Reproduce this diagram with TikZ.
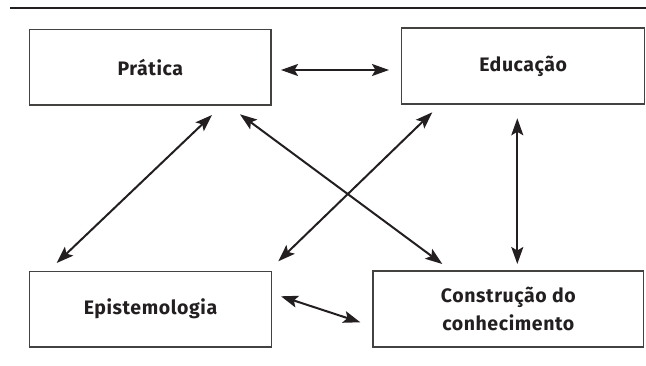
\documentclass[tikz,border=0pt]{standalone}
\usepackage{fontspec}
\setmainfont{Fira Sans}[LetterSpace=3]
\usetikzlibrary{arrows.meta}
\definecolor{ink}{HTML}{231F20}
\begin{document}
\begin{tikzpicture}[x=1pt,y=-1pt,
  box/.style={draw=ink!85,line width=1.3pt,fill=white,inner sep=0pt,
    font=\fontsize{19.5}{28}\selectfont\bfseries,text=ink,align=center},
  link/.style={draw=ink,line width=2pt,
    {Stealth[length=17pt,width=12pt,inset=3.5pt]}-{Stealth[length=17pt,width=12pt,inset=3.5pt]}}]
\useasboundingbox (0,0) rectangle (646,366);
\draw[ink,line width=2.5pt] (10,8) -- (646,8);
\node[box,minimum width=241.5pt,minimum height=75.5pt] (pr) at (150.3,67.3) {Prática};
\node[box,minimum width=243pt,minimum height=76pt] (ed) at (523.2,66) {Educação};
\node[box,minimum width=242pt,minimum height=75.7pt] (ep) at (150.5,309.2) {\raisebox{-1.5pt}{Epistemologia}};
\node[box,minimum width=270.7pt,minimum height=76pt] (co) at (508.3,309) {Construção do\\conhecimento};
\coordinate (a1) at (281,70);   \coordinate (a2) at (389,70);
\coordinate (b1) at (212,115);  \coordinate (b2) at (56.7,263);
\coordinate (c1) at (240,114.3);\coordinate (c2) at (442.3,264);
\coordinate (d1) at (432.3,112.3); \coordinate (d2) at (278.3,261.3);
\coordinate (e1) at (517.3,118.3); \coordinate (e2) at (517.3,264);
\coordinate (f1) at (281,296.3); \coordinate (f2) at (360.3,322.3);
\draw[link] (a1) -- (a2);
\draw[link] (b1) -- (b2);
\draw[link] (c1) -- (c2);
\draw[link] (d1) -- (d2);
\draw[link] (e1) -- (e2);
\draw[link] (f1) -- (f2);
\end{tikzpicture}
\end{document}
